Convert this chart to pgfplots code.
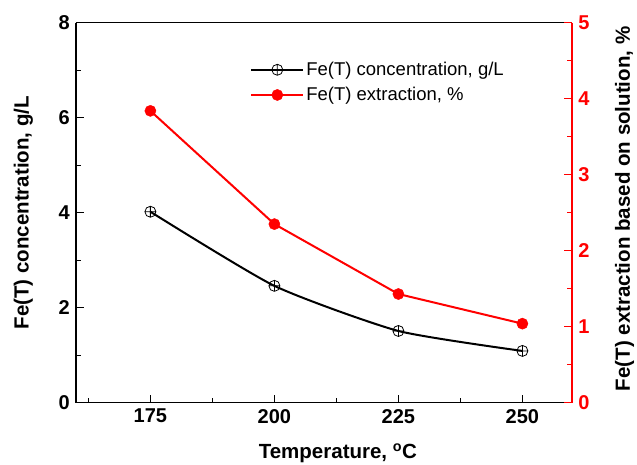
\documentclass[border=0pt]{standalone}
\usepackage{fontspec}
\setmainfont{Liberation Sans}
\usepackage{pgfplots}
\pgfplotsset{compat=1.18}

\begin{document}
\fontsize{18.5}{22}\selectfont
\begin{tikzpicture}
\pgfplotsset{
  every axis/.append style={
    scale only axis, width=496pt, height=380pt,
    xmin=160, xmax=260,
    tick align=inside,
    major tick length=8pt, minor tick length=5pt,
    every tick/.style={line width=1.3pt},
    every minor tick/.style={line width=1.3pt},
    axis line style={line width=1.5pt},
    /pgf/number format/assume math mode=true,
    ticklabel style={font=\fontsize{20}{24}\selectfont\bfseries},
    label style={font=\fontsize{20.5}{24}\selectfont\bfseries},
  },
}
\begin{axis}[
  axis y line*=left,
  xtick pos=bottom,
  ymin=0, ymax=8,
  ytick={0,2,4,6,8},
  minor ytick={1,3,5,7},
  xtick={175,200,225,250},
  minor xtick={162.5,187.5,212.5,237.5},
  ylabel={Fe(T) concentration, g/L},
  ylabel style={at={(axis description cs:-0.106,0.5)}, anchor=center},
  xlabel={Temperature, \textsuperscript{o}C},
  xlabel style={at={(axis description cs:0.528,-0.148)}, anchor=base},
]
\addplot[black, line width=2pt, smooth, tension=0.35, mark=oplus, mark size=5.5pt,
  mark options={fill=white, line width=0.8pt, black}]
  coordinates {(175,4.02) (200,2.46) (225,1.51) (250,1.09)};
\end{axis}

\begin{axis}[
  axis y line*=right,
  axis x line=none,
  ymin=0, ymax=5,
  ytick={0,1,2,3,4,5},
  minor ytick={0.5,1.5,2.5,3.5,4.5},
  y axis line style={red},
  y tick style={red},
  yticklabel style={red},
  ylabel={Fe(T) extraction based on solution, \%},
  ylabel style={at={(axis description cs:1.106,0.51)}, anchor=center},
  legend style={draw=none, fill=none, at={(axis description cs:0.345,0.915)}, anchor=north west,
    font=\fontsize{18.5}{22}\selectfont,
    nodes={inner ysep=4.5pt}},
  legend cell align=left,
  legend image code/.code={
    \draw[mark repeat=2, mark phase=2, #1] plot coordinates {(0pt,0pt) (26pt,0pt) (52pt,0pt)};
  },
]
\addlegendimage{black, line width=2pt, mark=oplus, mark size=5.5pt,
  mark options={fill=white, line width=0.8pt, black}}
\addlegendentry{Fe(T) concentration, g/L}
\addplot[red, line width=2pt, mark=*, mark size=5.6pt, mark options={line width=0.4pt}]
  coordinates {(175,3.84) (200,2.35) (225,1.43) (250,1.04)};
\addlegendentry{Fe(T) extraction, \%}
\end{axis}
\pgfresetboundingbox
\path (-76pt,-62.3pt) rectangle (561pt,402.7pt);
\end{tikzpicture}
\end{document}
